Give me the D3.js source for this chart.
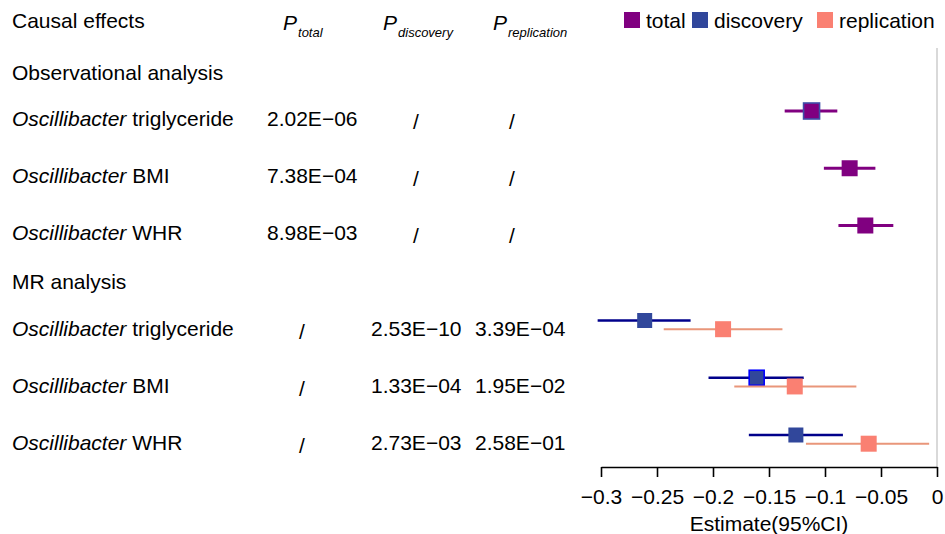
<!DOCTYPE html>
<html>
<head>
<meta charset="utf-8">
<script src="https://cdn.jsdelivr.net/npm/d3@7"></script>
<style>
  body { margin: 0; background: #fff; }
  text { font-family: "Liberation Sans", Arial, sans-serif; fill: #000; }
</style>
</head>
<body>
<div id="chart"></div>
<script>
// Data (rows: 3 observational, then 3 MR)
var traits = ["triglyceride", "BMI", "WHR", "triglyceride", "BMI", "WHR"];
var pTotal = ["2.02E\u221206", "7.38E\u221204", "8.98E\u221203", "/", "/", "/"];
var pDiscovery = ["/", "/", "/", "2.53E\u221210", "1.33E\u221204", "2.73E\u221203"];
var pReplication = ["/", "/", "/", "3.39E\u221204", "1.95E\u221202", "2.58E\u221201"];

// observational estimates
var totalEst = [-0.112, -0.078, -0.064];
var totalLo = [-0.136, -0.101, -0.088];
var totalHi = [-0.089, -0.055, -0.039];
// MR estimates
var discEst = [-0.261, -0.161, -0.126];
var discLo = [-0.303, -0.204, -0.168];
var discHi = [-0.220, -0.119, -0.084];
var repEst = [-0.191, -0.127, -0.061];
var repLo = [-0.244, -0.181, -0.117];
var repHi = [-0.138, -0.072, -0.007];

var xTicks = [-0.3, -0.25, -0.2, -0.15, -0.1, -0.05, 0];
var legendKeys = ["total", "discovery", "replication"];

var svgWidth = 945;
var svgHeight = 534;

var colors = {
  total: { fill: "#800080", line: "#800080" },
  discovery: { fill: "#31479B", line: "#00008B" },
  replication: { fill: "#FA8072", line: "#E9967A" }
};

var svg = d3.select("#chart")
  .append("svg")
  .attr("width", svgWidth)
  .attr("height", svgHeight);

// Scales
var x = d3.scaleLinear().domain([-0.3, 0]).range([601, 937]);
var obsY = d3.scaleLinear().domain([0, 2]).range([111, 225.5]);
var mrY = d3.scaleLinear().domain([0, 2]).range([320.5, 435]);
var axisY = 467;

// reference line at 0
svg.append("line")
  .attr("x1", x(0)).attr("x2", x(0))
  .attr("y1", 48).attr("y2", axisY)
  .attr("stroke", "#d9d9d9")
  .attr("stroke-width", 2);

// Header
svg.append("text").attr("x", 12).attr("y", 28)
  .style("font-size", "21px").text("Causal effects");

var pHeads = [["total", 283], ["discovery", 383], ["replication", 493]];
pHeads.forEach(function(h) {
  var t = svg.append("text").attr("x", h[1]).attr("y", 30);
  t.append("tspan").style("font-size", "21px").style("font-style", "italic").text("P");
  t.append("tspan").attr("dx", 1).attr("dy", 7)
    .style("font-size", "13px").style("font-style", "italic").text(h[0]);
});

// Legend
var legendX = [624, 692, 817];
legendKeys.forEach(function(k, i) {
  svg.append("rect")
    .attr("x", legendX[i]).attr("y", 12)
    .attr("width", 16).attr("height", 16)
    .attr("fill", colors[k].fill);
  svg.append("text")
    .attr("x", legendX[i] + 22).attr("y", 28)
    .style("font-size", "21px")
    .text(k);
});

// Section headings
svg.append("text").attr("x", 12).attr("y", 80)
  .style("font-size", "21px").text("Observational analysis");
svg.append("text").attr("x", 12).attr("y", 289)
  .style("font-size", "21px").text("MR analysis");

// Table rows
function rowBaseline(i) {
  return i < 3 ? obsY(i) + 14.5 : mrY(i - 3) + 15;
}

var rows = svg.selectAll(".row")
  .data(traits)
  .enter()
  .append("g")
  .attr("class", "row");

var labels = rows.append("text")
  .attr("x", 12)
  .attr("y", function(d, i) { return rowBaseline(i); })
  .style("font-size", "21px");
labels.append("tspan").style("font-style", "italic").text("Oscillibacter");
labels.append("tspan").text(function(d) { return " " + d; });

function pColumn(values, numX, slashX) {
  rows.append("text")
    .attr("x", function(d, i) { return values[i] === "/" ? slashX : numX; })
    .attr("y", function(d, i) { return rowBaseline(i) + (values[i] === "/" ? 3 : 0); })
    .attr("text-anchor", function(d, i) { return values[i] === "/" ? "middle" : "start"; })
    .style("font-size", "21px")
    .text(function(d, i) { return values[i]; });
}
pColumn(pTotal, 267, 302);
pColumn(pDiscovery, 371, 416);
pColumn(pReplication, 475, 512);

// Forest marks
function drawSeries(est, lo, hi, yFn, key, size, lineW, strokeFn) {
  var idx = d3.range(est.length);
  svg.append("g").selectAll("line")
    .data(idx)
    .enter()
    .append("line")
    .attr("x1", function(i) { return x(lo[i]); })
    .attr("x2", function(i) { return x(hi[i]); })
    .attr("y1", yFn).attr("y2", yFn)
    .attr("stroke", colors[key].line)
    .attr("stroke-width", lineW);
  svg.append("g").selectAll("rect")
    .data(idx)
    .enter()
    .append("rect")
    .attr("x", function(i) { return x(est[i]) - size / 2; })
    .attr("y", function(i) { return yFn(i) - size / 2; })
    .attr("width", size).attr("height", size)
    .attr("fill", colors[key].fill)
    .attr("stroke", strokeFn)
    .attr("stroke-width", 1.6);
}

drawSeries(totalEst, totalLo, totalHi, function(i) { return obsY(i); }, "total", 16, 3,
  function(i) { return i === 0 ? "#3F4FA8" : "none"; });
drawSeries(discEst, discLo, discHi, function(i) { return mrY(i); }, "discovery", 15, 2.5,
  function(i) { return i === 1 ? "#0000FF" : "none"; });
drawSeries(repEst, repLo, repHi, function(i) { return mrY(i) + 8.7; }, "replication", 16, 2,
  function() { return "none"; });

// X axis
var xAxis = d3.axisBottom(x)
  .tickValues(xTicks)
  .tickFormat(d3.format(""))
  .tickSize(10)
  .tickSizeOuter(0)
  .tickPadding(12);

var axisG = svg.append("g")
  .attr("transform", "translate(0," + axisY + ")")
  .call(xAxis);
axisG.select(".domain").attr("stroke-width", 1.6);
axisG.selectAll(".tick line").attr("stroke-width", 1.6);
axisG.selectAll(".tick text")
  .style("font-size", "21px")
  .style("font-family", "'Liberation Sans', Arial, sans-serif");

svg.append("text")
  .attr("x", (x(-0.3) + x(0)) / 2)
  .attr("y", 531)
  .attr("text-anchor", "middle")
  .style("font-size", "21px")
  .text("Estimate(95%CI)");
</script>
</body>
</html>
